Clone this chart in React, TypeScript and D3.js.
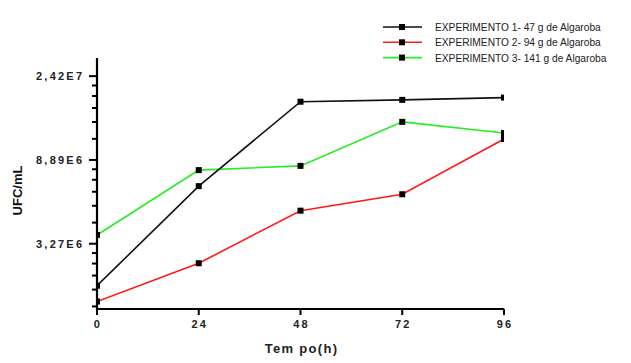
import React, { useEffect, useRef } from "react";
import * as d3 from "d3";

// tempo (h)
const hours = [0, 24, 48, 72, 96];

// UFC/mL per experiment
const exp1 = [1.98e6, 6.5e6, 1.78e7, 1.82e7, 1.87e7];
const exp2 = [1.64e6, 2.59e6, 4.85e6, 5.9e6, 1.14e7];
const exp3 = [3.63e6, 7.87e6, 8.28e6, 1.4e7, 1.225e7];

const seriesNames = [
  "EXPERIMENTO 1- 47 g de Algaroba",
  "EXPERIMENTO 2- 94 g de Algaroba",
  "EXPERIMENTO 3- 141 g de Algaroba",
];
const seriesColors = ["#111111", "#ff1a1a", "#22ee22"];

// ln-scale major ticks and their labels
const yMajor = [Math.exp(15), Math.exp(16), Math.exp(17)];
const yTickLabels = ["3,27E6", "8,89E6", "2,42E7"];
const xTickLabels = ["0", "24", "48", "72", "96"];

const W = 631;
const H = 363;
const margin = { left: 97, right: 127, top: 58, bottom: 54 };

function App() {
  const svgRef = useRef<SVGSVGElement>(null);

  useEffect(() => {
    const svg = d3.select(svgRef.current);
    svg.selectAll("*").remove();

    const x = d3
      .scaleLinear()
      .domain([0, 96])
      .range([margin.left, W - margin.right]);
    const y = d3
      .scaleLog()
      .base(Math.E)
      .domain([1.5e6, 3e7])
      .range([H - margin.bottom, margin.top]);

    const [x0, x1] = x.range();
    const [yb, yt] = y.range();

    svg
      .append("defs")
      .append("clipPath")
      .attr("id", "plotclip")
      .append("rect")
      .attr("x", x0)
      .attr("y", yt)
      .attr("width", x1 - x0)
      .attr("height", yb - yt);

    // minor ticks: 5 linear steps between majors
    const minor: number[] = [];
    const bounds = [Math.exp(14), ...yMajor];
    for (let i = 0; i < bounds.length - 1; i++) {
      const step = (bounds[i + 1] - bounds[i]) / 6;
      for (let k = 1; k < 6; k++) {
        const v = bounds[i] + k * step;
        if (v >= 1.5e6) minor.push(v);
      }
    }

    const axes = svg.append("g").attr("stroke", "#000");
    axes
      .selectAll(".minor")
      .data(minor)
      .join("line")
      .attr("x1", x0 - 5)
      .attr("x2", x0)
      .attr("y1", (d) => y(d))
      .attr("y2", (d) => y(d))
      .attr("stroke-width", 2);
    axes
      .selectAll(".major")
      .data(yMajor)
      .join("line")
      .attr("x1", x0 - 8)
      .attr("x2", x0)
      .attr("y1", (d) => y(d))
      .attr("y2", (d) => y(d))
      .attr("stroke-width", 2);
    axes
      .selectAll(".xtick")
      .data(hours)
      .join("line")
      .attr("x1", (d) => x(d))
      .attr("x2", (d) => x(d))
      .attr("y1", yb)
      .attr("y2", yb + 6)
      .attr("stroke-width", 2);
    axes
      .append("path")
      .attr("d", `M${x0},${yt}V${yb}H${x1}`)
      .attr("fill", "none")
      .attr("stroke-width", 2.2);

    const labelStyle = (sel: any) =>
      sel
        .attr("font-family", "Liberation Sans, Arial, sans-serif")
        .attr("font-weight", "bold")
        .attr("font-size", 11)
        .attr("fill", "#222");

    svg
      .append("g")
      .selectAll("text")
      .data(yMajor)
      .join("text")
      .attr("x", x0 - 61)
      .attr("y", (d) => y(d) + 4)
      .attr("textLength", 46)
      .attr("lengthAdjust", "spacing")
      .text((d, i) => yTickLabels[i])
      .call(labelStyle);

    svg
      .append("g")
      .selectAll("text")
      .data(hours)
      .join("text")
      .attr("x", (d) => x(d) + 1)
      .attr("y", yb + 19)
      .attr("text-anchor", "middle")
      .style("letter-spacing", "2.2px")
      .text((d, i) => xTickLabels[i])
      .call(labelStyle);

    svg
      .append("text")
      .attr("x", (x0 + x1) / 2 + 1)
      .attr("y", 353)
      .attr("text-anchor", "middle")
      .attr("font-family", "Liberation Sans, Arial, sans-serif")
      .attr("font-weight", "bold")
      .attr("font-size", 13)
      .style("letter-spacing", "1.3px")
      .attr("fill", "#222")
      .text("Tem po(h)");

    svg
      .append("text")
      .attr("transform", `translate(22,${(yt + yb) / 2 + 7}) rotate(-90)`)
      .attr("text-anchor", "middle")
      .attr("font-family", "Liberation Sans, Arial, sans-serif")
      .attr("font-weight", "bold")
      .attr("font-size", 13)
      .attr("fill", "#111")
      .text("UFC/mL");

    // series
    const line = d3
      .line<number>()
      .x((d, i) => x(hours[i]))
      .y((d) => y(d));

    const plot = svg.append("g").attr("clip-path", "url(#plotclip)");
    const allSeries = [exp1, exp2, exp3];
    const order = [1, 2, 0];
    order.forEach((si) => {
      plot
        .append("path")
        .datum(allSeries[si])
        .attr("d", line)
        .attr("fill", "none")
        .attr("stroke", seriesColors[si])
        .attr("stroke-width", 1.6);
    });
    order.forEach((si) => {
      plot
        .append("g")
        .selectAll("rect")
        .data(allSeries[si])
        .join("rect")
        .attr("x", (d, i) => x(hours[i]) - 3)
        .attr("y", (d) => y(d) - 3)
        .attr("width", 6)
        .attr("height", 6)
        .attr("fill", "#000");
    });

    // legend
    const legend = svg.append("g");
    seriesNames.forEach((name, i) => {
      const ly = 27 + i * 15.3;
      legend
        .append("line")
        .attr("x1", 383)
        .attr("x2", 422)
        .attr("y1", ly)
        .attr("y2", ly)
        .attr("stroke", seriesColors[i])
        .attr("stroke-width", 1.6);
      legend
        .append("rect")
        .attr("x", 399)
        .attr("y", ly - 3)
        .attr("width", 6)
        .attr("height", 6)
        .attr("fill", "#000");
      legend
        .append("text")
        .attr("x", 435)
        .attr("y", ly + 4)
        .attr("font-family", "Liberation Sans, Arial, sans-serif")
        .attr("font-size", 10.2)
        .attr("fill", "#222")
        .text(name);
    });
  }, []);

  return (
    <svg
      ref={svgRef}
      width={W}
      height={H}
      style={{ position: "absolute", left: 0, top: 0, background: "#fff" }}
    />
  );
}

export default App;
